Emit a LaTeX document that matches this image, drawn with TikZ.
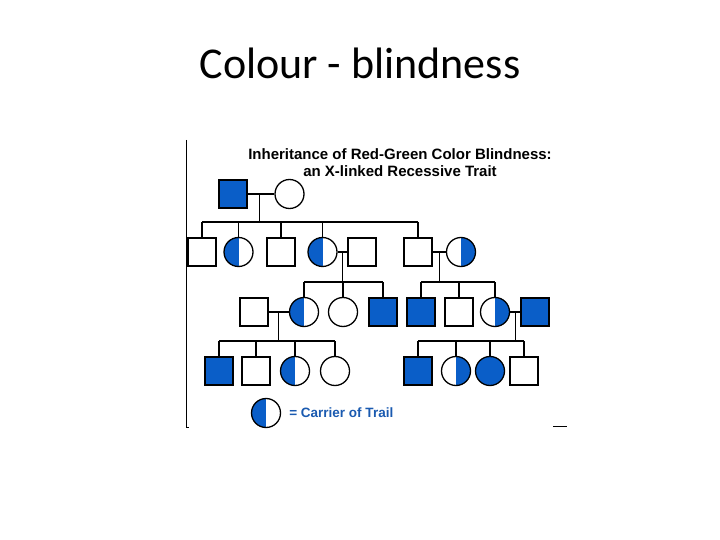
\documentclass[tikz,border=0pt]{standalone}
\usepackage{fontspec}
\setmainfont{Carlito}
\newfontfamily\pedfont{Liberation Sans}
\usetikzlibrary{positioning}
\definecolor{blind}{RGB}{10,94,200}
\definecolor{blindtext}{RGB}{26,90,176}
\tikzset{%
  male/.style={draw, line width=1.3pt, minimum size=28pt, inner sep=0pt},
  female/.style={draw, circle, line width=1.3pt, minimum size=29pt, inner sep=0pt},
  affected/.style={fill=blind},
  carrierL/.style={path picture={\fill[blind] (path picture bounding box.south west) rectangle (path picture bounding box.north);}},
  carrierR/.style={path picture={\fill[blind] (path picture bounding box.south) rectangle (path picture bounding box.north east);}},
  line/.style={line width=1.1pt},
}

\begin{document}
\begin{tikzpicture}[x=1pt, y=-1pt]
    \useasboundingbox (0,0) rectangle (720,540);

    % title
    \node[font=\fontsize{44}{52}\selectfont, anchor=base] (title) at (360,79) {Colour - blindness};

    % frame marks
    \coordinate (F1) at (186,140);
    \coordinate (F2) at (186,427);
    \coordinate (F3) at (553,426);
    \coordinate (F4) at (567,426);
    \draw[line width=0.8pt] (F1) -- (F2) -- ++(3,0);
    \draw[line width=0.8pt] (F3) -- (F4);

    \node[font=\pedfont\bfseries\fontsize{15}{17}\selectfont, align=center] (head) at (400,163)
        {Inheritance of Red-Green Color Blindness:\\an X-linked Recessive Trait};

    % generation I
    \node[male, affected] (g1m) at (233,194) {};
    \node[female] (g1f) at (289.5,194) {};

    % generation II
    \node[male] (a1) at (202,252) {};
    \node[female, carrierL] (a2) at (238.5,252) {};
    \node[male] (a3) at (281,252) {};
    \node[female, carrierL] (a4) at (322.5,252) {};
    \node[male] (a5) at (362,252) {};
    \node[male] (a6) at (418,252) {};
    \node[female, carrierR] (a7) at (461,252) {};

    % generation III
    \node[male] (b1) at (254,312) {};
    \node[female, carrierL] (b2) at (304,312) {};
    \node[female] (b3) at (343,312) {};
    \node[male, affected] (b4) at (383,312) {};
    \node[male, affected] (b5) at (421,312) {};
    \node[male] (b6) at (459,312) {};
    \node[female, carrierR] (b7) at (495,312) {};
    \node[male, affected] (b8) at (535,312) {};

    % generation IV
    \node[male, affected] (c1) at (219,371) {};
    \node[male] (c2) at (256,371) {};
    \node[female, carrierL] (c3) at (295,371) {};
    \node[female] (c4) at (335,371) {};
    \node[male, affected] (c5) at (418,371) {};
    \node[female, carrierR] (c6) at (456,371) {};
    \node[female, affected] (c7) at (490,371) {};
    \node[male] (c8) at (524,371) {};

    % sibship levels
    \coordinate (s1) at (0,222);
    \coordinate (s2) at (0,282);
    \coordinate (s3) at (0,282);
    \coordinate (s4) at (0,341);
    \coordinate (s5) at (0,341);

    % marriages and descent lines
    \draw[line] (g1m.east) -- (g1f.west) coordinate[pos=0.45] (m1);
    \draw[line] (a4.east) -- (a5.west) coordinate[pos=0.5] (m2);
    \draw[line] (a6.east) -- (a7.west) coordinate[pos=0.5] (m3);
    \draw[line] (b1.east) -- (b2.west) coordinate[pos=0.5] (m4);
    \draw[line] (b7.east) -- (b8.west) coordinate[pos=0.5] (m5);

    \draw[line] (m1) -- (m1 |- s1);
    \draw[line] (m2) -- (m2 |- s2);
    \draw[line] (m3) -- (m3 |- s3);
    \draw[line] (m4) -- (m4 |- s4);
    \draw[line] (m5) -- (m5 |- s5);

    % sibships
    \draw[line] (a1 |- s1) -- (a6 |- s1);
    \draw[line] (b2 |- s2) -- (b4 |- s2);
    \draw[line] (b5 |- s3) -- (b7 |- s3);
    \draw[line] (c1 |- s4) -- (c4 |- s4);
    \draw[line] (c5 |- s5) -- (c8 |- s5);
    \foreach \k in {a1,a2,a3,a4,a6}
        \draw[line] (\k |- s1) -- (\k.north);
    \foreach \k in {b2,b3,b4}
        \draw[line] (\k |- s2) -- (\k.north);
    \foreach \k in {b5,b6,b7}
        \draw[line] (\k |- s3) -- (\k.north);
    \foreach \k in {c1,c2,c3,c4}
        \draw[line] (\k |- s4) -- (\k.north);
    \foreach \k in {c5,c6,c7,c8}
        \draw[line] (\k |- s5) -- (\k.north);

    % key
    \node[female, carrierL] (key) at (266,413) {};
    \node[right=7pt of key, inner sep=1pt, text=blindtext, font=\pedfont\bfseries\fontsize{13.5}{15}\selectfont] (keytext) {= Carrier of Trail};
\end{tikzpicture}
\end{document}
